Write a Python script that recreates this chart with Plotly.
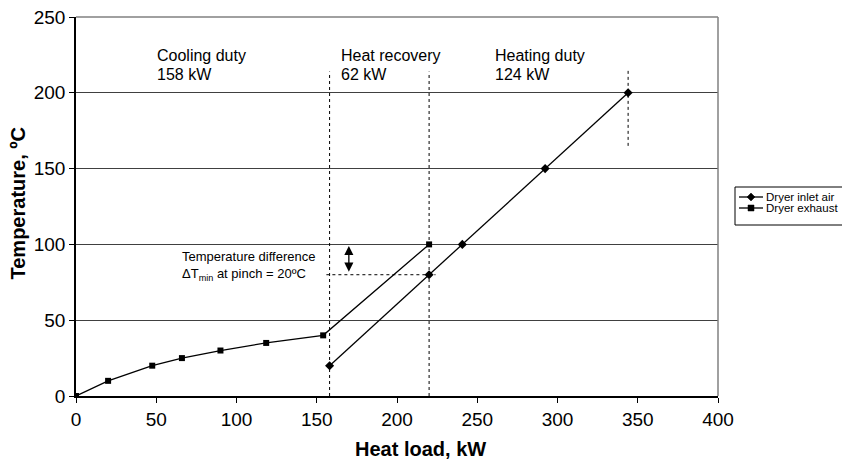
import plotly.graph_objects as go

# Composite curves
inlet_load = [158, 220, 240.7, 292.3, 344]
inlet_temp = [20, 80, 100, 150, 200]

exhaust_load = [0, 20, 47.5, 66, 90, 118.5, 154, 220]
exhaust_temp = [0, 10, 20, 25, 30, 35, 40, 100]

series_names = ["Dryer inlet air", "Dryer exhaust"]

x_ticks = [0, 50, 100, 150, 200, 250, 300, 350, 400]
y_ticks = [0, 50, 100, 150, 200, 250]

FONT = "Liberation Sans, Arial, sans-serif"

# the page body has an 8px margin, so the figure is 8px smaller each way
W, H = 842, 452
L, R, T, B = 68, 132, 9, 64
PW, PH = W - L - R, H - T - B


def px(fx):
    # figure pixel x -> paper x
    return (fx - L) / PW


def py(fy):
    # figure pixel y (from top) -> paper y
    return (H - B - fy) / PH


fig = go.Figure()
fig.add_scatter(
    x=inlet_load, y=inlet_temp, name=series_names[0],
    mode="lines+markers", showlegend=False,
    line=dict(color="black", width=1.3),
    marker=dict(symbol="diamond", size=7, color="black"),
)
fig.add_scatter(
    x=exhaust_load, y=exhaust_temp, name=series_names[1],
    mode="lines+markers", showlegend=False,
    line=dict(color="black", width=1.3),
    marker=dict(symbol="square", size=6, color="black"),
)

cool_end = inlet_load[0]
pinch = exhaust_load[-1]
heat_end = inlet_load[-1]
pinch_low = inlet_temp[1]
pinch_high = exhaust_temp[-1]

dash = dict(color="black", width=1, dash="3px,3px")
fig.add_shape(type="line", x0=cool_end, x1=cool_end, y0=0, y1=214, line=dash)
fig.add_shape(type="line", x0=pinch, x1=pinch, y0=0, y1=214, line=dash)
fig.add_shape(type="line", x0=heat_end, x1=heat_end, y0=165, y1=215, line=dash)
fig.add_shape(type="line", x0=cool_end - 2, x1=pinch + 4, y0=pinch_low, y1=pinch_low, line=dash)
# top and right border of the plot area
border = dict(color="#808080", width=1.5)
fig.add_shape(type="line", xref="paper", yref="paper", x0=1, x1=1, y0=0, y1=1, line=border)
fig.add_shape(type="line", xref="paper", yref="paper", x0=0, x1=1, y0=1, y1=1, line=border)

# double arrow showing dTmin
fig.add_annotation(
    x=170, y=pinch_high - 1, ax=170, ay=pinch_low + 1,
    axref="x", ayref="y", text="", showarrow=True,
    arrowhead=2, arrowsize=1.4, arrowwidth=1.3, arrowside="end+start", arrowcolor="black",
)

label_font = dict(family=FONT, size=16, color="black")
for x, top, bottom in [(49, "Cooling duty", "158 kW"), (164, "Heat recovery", "62 kW"),
                       (260, "Heating duty", "124 kW")]:
    fig.add_annotation(x=x, y=224.3, text=top, showarrow=False, xanchor="left",
                       yanchor="middle", font=label_font)
    fig.add_annotation(x=x, y=212.4, text=bottom, showarrow=False, xanchor="left",
                       yanchor="middle", font=label_font)

fig.add_annotation(
    x=65, y=98, text="Temperature difference<br>ΔT<sub>min</sub> at pinch = 20ºC",
    showarrow=False, xanchor="left", yanchor="top", align="left",
    font=dict(family=FONT, size=13, color="black"),
)

title_font = dict(family=FONT, size=20, color="black")
fig.add_annotation(
    xref="paper", yref="paper", x=0.5366, y=-0.14, text="<b>Heat load, kW</b>",
    showarrow=False, xanchor="center", yanchor="middle", font=title_font,
)
fig.add_annotation(
    xref="paper", yref="paper", x=-0.0903, y=0.508, text="<b>Temperature, ºC</b>",
    textangle=-90, showarrow=False, xanchor="center", yanchor="middle", font=title_font,
)

# legend box drawn by hand (Excel-style, tight rows, cut at the right edge)
fig.add_shape(type="rect", xref="paper", yref="paper",
              x0=px(727), x1=px(848), y0=py(179), y1=py(217),
              line=dict(color="black", width=1), fillcolor="white")
markers = [
    "M -4 0 L 0 4 L 4 0 L 0 -4 Z",
    "M -3 -3 L 3 -3 L 3 3 L -3 3 Z",
]
for i, (name, path) in enumerate(zip(series_names, markers)):
    row = 189 + i * 11
    fig.add_shape(type="line", xref="paper", yref="paper",
                  x0=px(731), x1=px(755), y0=py(row), y1=py(row),
                  line=dict(color="black", width=1.3))
    fig.add_shape(type="path", xref="paper", yref="paper",
                  xsizemode="pixel", ysizemode="pixel",
                  xanchor=px(743), yanchor=py(row), path=path,
                  fillcolor="black", line=dict(color="black", width=0.5))
    fig.add_annotation(xref="paper", yref="paper", x=px(757), y=py(row), text=name,
                       showarrow=False, xanchor="left", yanchor="middle", borderpad=0,
                       font=dict(family=FONT, size=11.5, color="black"))

fig.update_layout(
    width=W, height=H,
    margin=dict(l=L, r=R, t=T, b=B, autoexpand=False),
    plot_bgcolor="white", paper_bgcolor="white",
    font=dict(family=FONT, color="black"),
    showlegend=False,
    xaxis=dict(
        range=[0, 400], tickvals=x_ticks, showgrid=False, zeroline=False, automargin=False,
        showline=True, linecolor="black", linewidth=1.5,
        ticks="outside", ticklen=5, tickcolor="black",
        tickfont=dict(family=FONT, size=19, color="black"),
    ),
    yaxis=dict(
        range=[0, 250], tickvals=y_ticks, showgrid=True, gridcolor="#404040", gridwidth=1,
        zeroline=False, automargin=False, showline=True, linecolor="black", linewidth=1.5,
        ticks="outside", ticklen=5, tickcolor="black", ticklabeloverflow="allow",
        tickfont=dict(family=FONT, size=19, color="black"),
    ),
)

fig.write_html("out.html")
